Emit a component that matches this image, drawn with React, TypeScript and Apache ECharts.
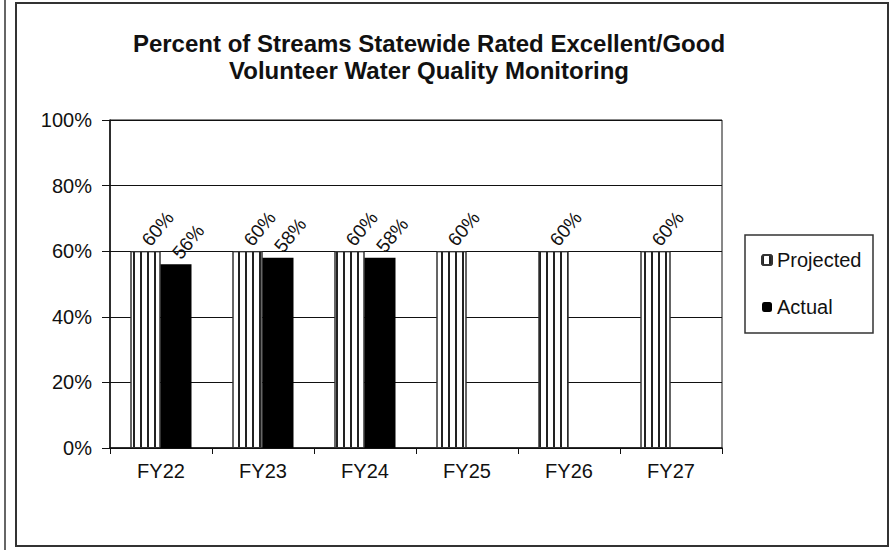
import React, { useEffect, useRef } from "react";
import * as echarts from "echarts";

const categories = ["FY22", "FY23", "FY24", "FY25", "FY26", "FY27"];
const projected = [60, 60, 60, 60, 60, 60];
const actual: (number | null)[] = [56, 58, 58, null, null, null];
const titleLines = [
  "Percent of Streams Statewide Rated Excellent/Good",
  "Volunteer Water Quality Monitoring",
];
const seriesNames = ["Projected", "Actual"];

export default function App() {
  const ref = useRef<HTMLDivElement>(null);
  useEffect(() => {
    if (!ref.current) return;
    const chart = echarts.init(ref.current, null, { renderer: "svg" });
    const font = "'Liberation Sans', Arial, sans-serif";
    const stripeDecal = {
      symbol: "rect",
      symbolSize: 1,
      dashArrayX: [2, 5],
      dashArrayY: [1, 0],
      color: "#222",
      rotation: 0,
    };
    const label = {
      show: true,
      position: "top" as const,
      rotate: 50,
      align: "left" as const,
      verticalAlign: "middle" as const,
      distance: 8,
      formatter: "{c}%",
      fontFamily: font,
      fontSize: 19,
      color: "#111",
    };
    chart.setOption({
      animation: false,
      backgroundColor: "#fff",
      title: {
        text: titleLines.join("\n"),
        left: 424,
        textAlign: "center",
        top: 25,
        textStyle: {
          fontFamily: font,
          fontSize: 24,
          fontWeight: "bold",
          color: "#111",
          lineHeight: 27,
        },
      },
      legend: {
        orient: "vertical",
        left: 761,
        top: 250,
        itemWidth: 10,
        itemHeight: 10,
        itemGap: 27,
        padding: 0,
        data: seriesNames,
        textStyle: { fontFamily: font, fontSize: 20, color: "#111" },
      },
      grid: {
        left: 110,
        right: 171,
        top: 120,
        bottom: 102,
        show: true,
        borderColor: "#111",
        borderWidth: 1,
      },
      xAxis: {
        type: "category",
        data: categories,
        axisLine: { lineStyle: { color: "#111", width: 1.5 } },
        axisTick: { show: true, length: 6, lineStyle: { color: "#111" } },
        axisLabel: { fontFamily: font, fontSize: 20, color: "#111", margin: 13 },
      },
      yAxis: {
        type: "value",
        min: 0,
        max: 100,
        interval: 20,
        axisLine: { show: true, lineStyle: { color: "#111", width: 1.5 } },
        axisTick: { show: true, length: 8, lineStyle: { color: "#111" } },
        splitLine: { lineStyle: { color: "#111", width: 1.2 } },
        axisLabel: { formatter: "{value}%", fontFamily: font, fontSize: 20, color: "#111", margin: 18 },
      },
      series: [
        {
          name: seriesNames[0],
          type: "bar",
          data: projected,
          barWidth: 30,
          barGap: "0%",
          itemStyle: { color: "#fff", borderColor: "#333", borderWidth: 1, decal: stripeDecal },
          label,
        },
        {
          name: seriesNames[1],
          type: "bar",
          data: actual,
          barWidth: 31,
          barGap: "0%",
          itemStyle: { color: "#000" },
          label,
        },
      ],
      graphic: [
        { type: "line", shape: { x1: 5, y1: 0, x2: 5, y2: 550 }, style: { stroke: "#333", lineWidth: 1.5 } },
        { type: "rect", shape: { x: 16, y: 3, width: 872, height: 543 }, style: { fill: "none", stroke: "#333", lineWidth: 2 } },
        { type: "rect", shape: { x: 745, y: 235, width: 128, height: 98 }, style: { fill: "none", stroke: "#333", lineWidth: 1.5 } },
      ],
    });
    return () => chart.dispose();
  }, []);
  return (
    <div
      ref={ref}
      style={{ position: "absolute", left: 0, top: 0, width: 893, height: 550, background: "#fff" }}
    />
  );
}
